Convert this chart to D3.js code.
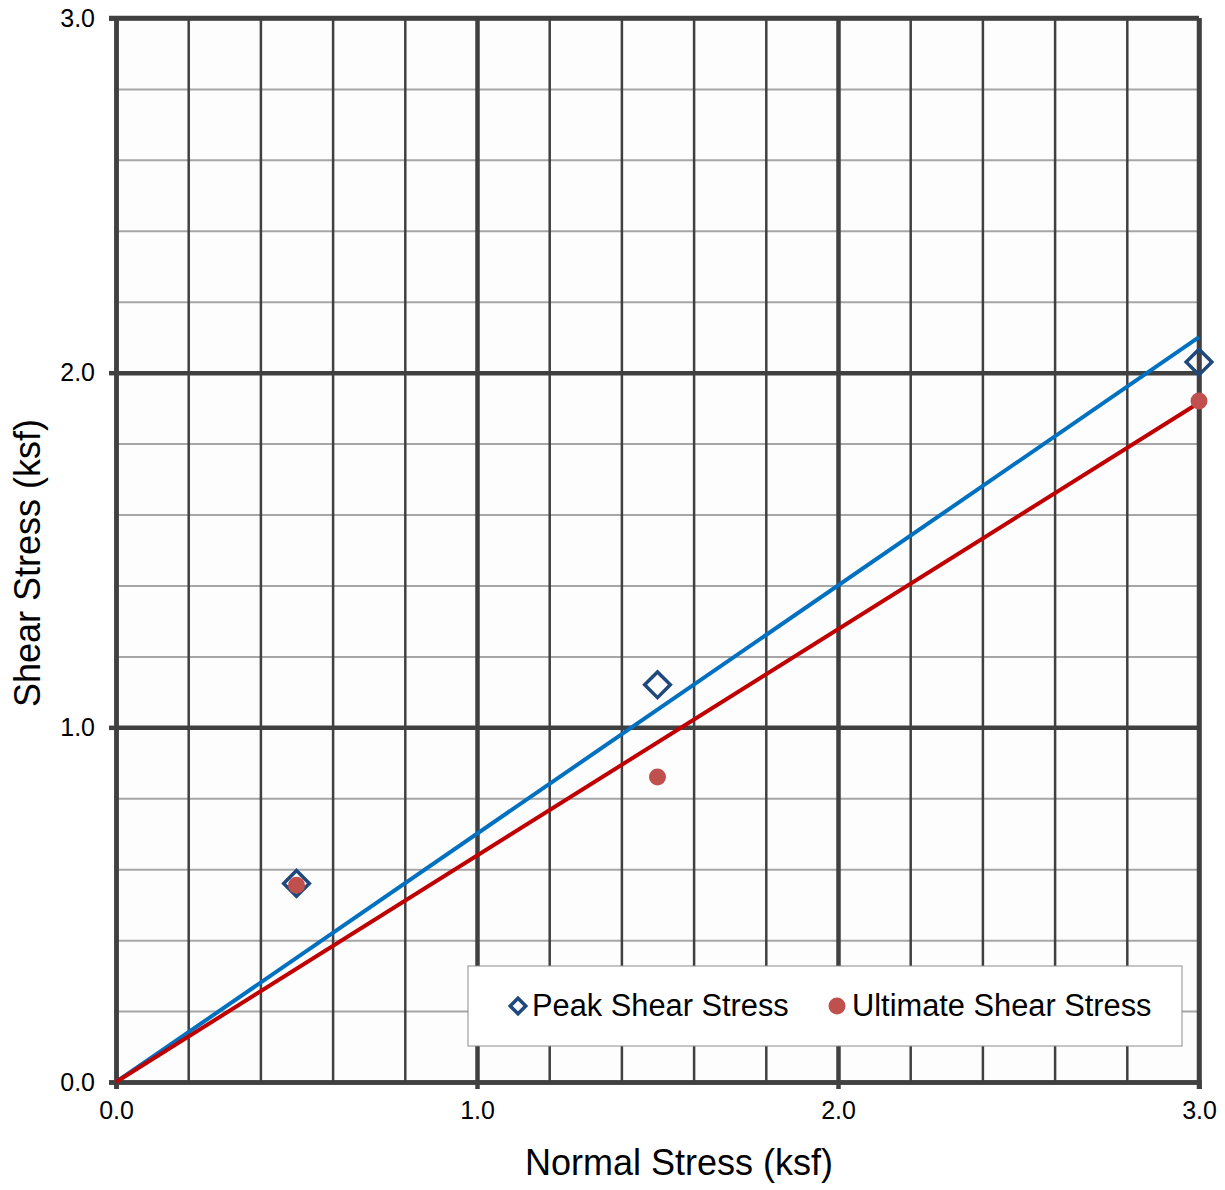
<!DOCTYPE html>
<html lang="en">
<head>
    <meta charset="UTF-8">
    <title>Shear Stress</title>
    <script src="https://cdn.jsdelivr.net/npm/d3@7/dist/d3.min.js"></script>
    <style>
        body { margin: 0; background: #fff; }
        text { font-family: "Liberation Sans", Arial, sans-serif; }
    </style>
</head>
<body>
<svg width="1225" height="1190" id="main"></svg>
<script>
    // data
    const normalStress = [0.5, 1.5, 3.0];
    const peakShear = [0.56, 1.12, 2.03];
    const ultimateShear = [0.555, 0.86, 1.92];
    const peakFit = [0, 2.1];       // line from 0 to 3.0
    const ultimateFit = [0, 1.915];
    const fitX = [0, 3.0];
    const tickValues = [0, 1, 2, 3];
    const minorValues = d3.range(0, 3.0001, 0.2);
    const seriesNames = ['Peak Shear Stress', 'Ultimate Shear Stress'];

    let svg = d3.select('#main');
    let margin = {top: 18, right: 26, bottom: 108, left: 116};
    const innerWidth = 1199 - margin.left;
    const innerHeight = 1082 - margin.top;

    let xScale = d3.scaleLinear().domain([0, 3]).range([0, innerWidth]);
    let yScale = d3.scaleLinear().domain([0, 3]).range([innerHeight, 0]);

    let g = svg.append('g').attr('transform', `translate(${margin.left}, ${margin.top})`);

    g.append('rect').attr('width', innerWidth).attr('height', innerHeight).attr('fill', '#fdfdfd');

    // horizontal minor grid (light)
    g.append('g').call(d3.axisLeft(yScale).tickValues(minorValues).tickSize(-innerWidth).tickFormat(''))
        .call(a => a.select('.domain').remove())
        .selectAll('line').attr('stroke', '#a6a6a6').attr('stroke-width', 2);

    // vertical minor grid (dark)
    g.append('g').attr('transform', `translate(0, ${innerHeight})`)
        .call(d3.axisBottom(xScale).tickValues(minorValues).tickSize(-innerHeight).tickFormat(''))
        .call(a => a.select('.domain').remove())
        .selectAll('line').attr('stroke', '#404040').attr('stroke-width', 2.5);

    // major grid
    g.append('g').call(d3.axisLeft(yScale).tickValues(tickValues).tickSize(-innerWidth).tickFormat(''))
        .call(a => a.select('.domain').remove())
        .selectAll('line').attr('stroke', '#404040').attr('stroke-width', 4.5);
    g.append('g').attr('transform', `translate(0, ${innerHeight})`)
        .call(d3.axisBottom(xScale).tickValues(tickValues).tickSize(-innerHeight).tickFormat(''))
        .call(a => a.select('.domain').remove())
        .selectAll('line').attr('stroke', '#404040').attr('stroke-width', 4.5);

    // axes with labels
    let yAxis = g.append('g').call(d3.axisLeft(yScale).tickValues(tickValues).tickSize(7).tickPadding(14).tickFormat(d3.format('.1f')));
    yAxis.attr('font-size', 25).attr('font-family', '"Liberation Sans", Arial, sans-serif');
    yAxis.select('.domain').attr('stroke', '#404040').attr('stroke-width', 4.5);
    yAxis.selectAll('line').attr('stroke', '#404040').attr('stroke-width', 4.5);
    yAxis.selectAll('text').attr('fill', '#000');

    let xAxis = g.append('g').attr('transform', `translate(0, ${innerHeight})`)
        .call(d3.axisBottom(xScale).tickValues(tickValues).tickSize(7).tickPadding(12).tickFormat(d3.format('.1f')));
    xAxis.attr('font-size', 25).attr('font-family', '"Liberation Sans", Arial, sans-serif');
    xAxis.select('.domain').attr('stroke', '#404040').attr('stroke-width', 4.5);
    xAxis.selectAll('line').attr('stroke', '#404040').attr('stroke-width', 4.5);
    xAxis.selectAll('text').attr('fill', '#000');

    // top & right frame lines
    g.append('line').attr('x1', -7).attr('x2', innerWidth).attr('y1', 0).attr('y2', 0)
        .attr('stroke', '#404040').attr('stroke-width', 4.5);
    g.append('line').attr('x1', innerWidth).attr('x2', innerWidth).attr('y1', 0).attr('y2', innerHeight + 7)
        .attr('stroke', '#404040').attr('stroke-width', 4.5);

    // fit lines
    let line = d3.line().x(d => xScale(d[0])).y(d => yScale(d[1]));
    g.append('path').datum(d3.zip(fitX, peakFit)).attr('d', line)
        .attr('fill', 'none').attr('stroke', '#0070c0').attr('stroke-width', 4);
    g.append('path').datum(d3.zip(fitX, ultimateFit)).attr('d', line)
        .attr('fill', 'none').attr('stroke', '#c00000').attr('stroke-width', 4);

    // markers
    let diamond = d3.symbol().type(d3.symbolSquare).size(330);
    g.selectAll('.peak').data(d3.zip(normalStress, peakShear)).join('path')
        .attr('class', 'peak')
        .attr('d', diamond)
        .attr('transform', d => `translate(${xScale(d[0])}, ${yScale(d[1])}) rotate(45)`)
        .attr('fill', 'none').attr('stroke', '#1f497d').attr('stroke-width', 3.5);
    g.selectAll('.ult').data(d3.zip(normalStress, ultimateShear)).join('circle')
        .attr('class', 'ult')
        .attr('cx', d => xScale(d[0])).attr('cy', d => yScale(d[1])).attr('r', 8.5)
        .attr('fill', '#c0504d');

    // legend
    let lg = svg.append('g').attr('transform', 'translate(468, 966)');
    lg.append('rect').attr('width', 714).attr('height', 80).attr('fill', '#fff')
        .attr('stroke', '#8c8c8c').attr('stroke-width', 1);
    lg.append('path').attr('d', d3.symbol().type(d3.symbolSquare).size(120))
        .attr('transform', 'translate(50, 40) rotate(45)')
        .attr('fill', 'none').attr('stroke', '#1f497d').attr('stroke-width', 3.5);
    lg.append('text').attr('x', 64).attr('y', 50).attr('font-size', 30.8).text(seriesNames[0]);
    lg.append('circle').attr('cx', 369).attr('cy', 40).attr('r', 8.5).attr('fill', '#c0504d');
    lg.append('text').attr('x', 384).attr('y', 50).attr('font-size', 30.8).text(seriesNames[1]);

    // axis titles
    svg.append('text').attr('x', 679).attr('y', 1175)
        .attr('text-anchor', 'middle').attr('font-size', 36).text('Normal Stress (ksf)');
    svg.append('text').attr('transform', 'translate(40, 563) rotate(-90)')
        .attr('text-anchor', 'middle').attr('font-size', 36).text('Shear Stress (ksf)');
</script>
</body>
</html>
